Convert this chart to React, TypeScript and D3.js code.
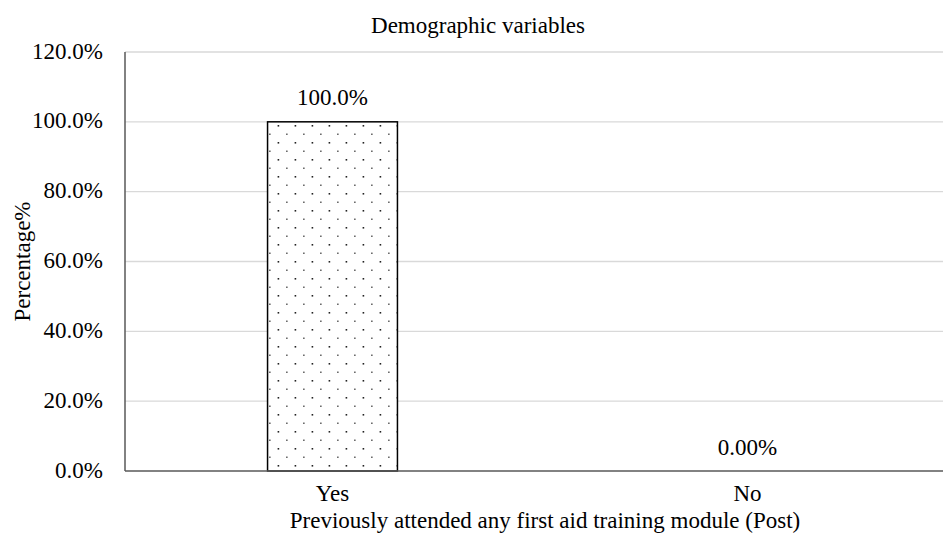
import React from "react";
import * as d3 from "d3";

const categories = ["Yes", "No"];
const values = [100.0, 0.0];
const valueLabels = ["100.0%", "0.00%"];
const yTicks = [0, 20, 40, 60, 80, 100, 120];

const W = 943;
const H = 539;
const left = 125;
const top = 52;
const bottom = 471;
const FS = 23;
const font = "Liberation Serif, 'Times New Roman', serif";

export default function App() {
  const x = d3
    .scaleBand<string>()
    .domain(categories)
    .range([left, left + 830])
    .paddingInner(0.687)
    .paddingOuter(0.3435);
  const y = d3.scaleLinear().domain([0, 120]).range([bottom, top]);
  const ts = { fontFamily: font, fontSize: FS, fill: "#000" } as React.CSSProperties;
  const cx = (c: string) => (x(c) as number) + x.bandwidth() / 2;
  return (
    <svg width={W} height={H} style={{ position: "absolute", left: 0, top: 0 }}>
      <defs>
        <pattern id="dots" width={17} height={17} patternUnits="userSpaceOnUse" x={0} y={0}>
          <rect width={17} height={17} fill="#fff" />
          <rect x={5.6} y={6.0} width={1.6} height={1.6} fill="#222" />
          <rect x={14.1} y={14.6} width={1.5} height={1.2} fill="#333" />
        </pattern>
      </defs>
      <rect width={W} height={H} fill="#fff" />
      {yTicks.map((t) => (
        <g key={t}>
          {t > 0 && (
            <line x1={left} x2={W} y1={y(t)} y2={y(t)} stroke="#d9d9d9" strokeWidth={1.3} />
          )}
          <text x={left - 22} y={y(t) + 6.5} textAnchor="end" style={ts}>
            {t.toFixed(1)}%
          </text>
        </g>
      ))}
      {categories.map((c, i) => (
        <g key={c}>
          {values[i] > 0 && (
            <rect
              x={x(c)}
              y={y(values[i])}
              width={x.bandwidth()}
              height={y(0) - y(values[i])}
              fill="url(#dots)"
              stroke="#000"
              strokeWidth={1.5}
            />
          )}
          <text x={cx(c)} y={y(values[i]) - 16.5} textAnchor="middle" style={ts}>
            {valueLabels[i]}
          </text>
          <text x={cx(c)} y={501} textAnchor="middle" style={ts}>
            {c}
          </text>
        </g>
      ))}
      <line x1={left} x2={left} y1={top} y2={bottom} stroke="#595959" strokeWidth={1.5} />
      <line x1={left} x2={W} y1={bottom} y2={bottom} stroke="#595959" strokeWidth={1.5} />
      <text x={478} y={33} textAnchor="middle" style={ts}>
        Demographic variables
      </text>
      <text x={545} y={528} textAnchor="middle" style={ts}>
        Previously attended any first aid training module (Post)
      </text>
      <text
        transform={`translate(30, ${(top + bottom) / 2}) rotate(-90)`}
        textAnchor="middle"
        style={ts}
      >
        Percentage%
      </text>
    </svg>
  );
}
